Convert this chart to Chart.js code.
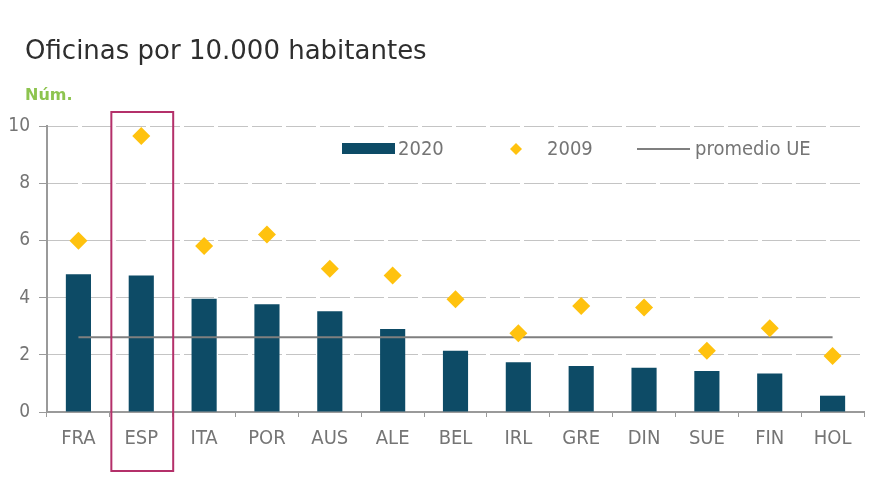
<!DOCTYPE html>
<html>
<head>
<meta charset="utf-8">
<script src="https://cdn.jsdelivr.net/npm/chart.js@4"></script>
<style>
  html, body { margin: 0; padding: 0; background: #ffffff; }
  canvas { display: block; }
</style>
</head>
<body>
<canvas id="c" width="880" height="495"></canvas>
<script>
const titleText = 'Oficinas por 10.000 habitantes';
const unitText = 'Núm.';
const categories = ['FRA', 'ESP', 'ITA', 'POR', 'AUS', 'ALE', 'BEL', 'IRL', 'GRE', 'DIN', 'SUE', 'FIN', 'HOL'];
const oficinas2020 = [4.82, 4.77, 3.96, 3.77, 3.52, 2.90, 2.14, 1.74, 1.61, 1.55, 1.43, 1.35, 0.57];
const oficinas2009 = [5.99, 9.65, 5.80, 6.21, 5.01, 4.77, 3.94, 2.75, 3.71, 3.65, 2.14, 2.93, 1.96];
const promedioUE = [2.61, 2.61, 2.61, 2.61, 2.61, 2.61, 2.61, 2.61, 2.61, 2.61, 2.61, 2.61, 2.61];
const yTickValues = [0, 2, 4, 6, 8, 10];
const seriesNames = ['2020', '2009', 'promedio UE'];
const highlightedCategory = 'ESP';

const COL_BAR = '#0d4b66';
const COL_DIAMOND = '#ffc20e';
const COL_AVG = '#7f7f7f';
const COL_TEXT = '#757575';
const COL_GRID = '#c4c4c4';
const COL_AXIS = '#9a9a9a';
const COL_HL = '#b4306a';
const TICK_FONT = '"DejaVu Sans Condensed", "Liberation Sans Narrow", "DejaVu Sans", sans-serif';

const headerPlugin = {
  id: 'header',
  afterDraw(chart) {
    const ctx = chart.ctx;
    ctx.save();
    ctx.textAlign = 'left';
    ctx.textBaseline = 'alphabetic';
    ctx.fillStyle = '#2e2e2e';
    ctx.font = '26px "DejaVu Sans", sans-serif';
    ctx.fillText(titleText, 25, 59);
    ctx.fillStyle = '#8dc44f';
    ctx.font = 'bold 16px "DejaVu Sans", sans-serif';
    ctx.fillText(unitText, 25, 100);
    ctx.restore();
  }
};

const legendPlugin = {
  id: 'customLegend',
  afterDraw(chart) {
    const ctx = chart.ctx;
    const y = 149;
    ctx.save();
    ctx.font = '20px ' + TICK_FONT;
    ctx.textBaseline = 'middle';
    ctx.textAlign = 'left';
    ctx.fillStyle = COL_BAR;
    ctx.fillRect(342, 143, 53, 11);
    ctx.fillStyle = COL_TEXT;
    ctx.fillText(seriesNames[0], 398, y + 1);
    ctx.fillStyle = COL_DIAMOND;
    ctx.beginPath();
    ctx.moveTo(516 - 6, y);
    ctx.lineTo(516, y - 6);
    ctx.lineTo(516 + 6, y);
    ctx.lineTo(516, y + 6);
    ctx.closePath();
    ctx.fill();
    ctx.fillStyle = COL_TEXT;
    ctx.fillText(seriesNames[1], 547, y + 1);
    ctx.strokeStyle = COL_AVG;
    ctx.lineWidth = 2;
    ctx.beginPath();
    ctx.moveTo(637, y);
    ctx.lineTo(690, y);
    ctx.stroke();
    ctx.fillStyle = COL_TEXT;
    ctx.fillText(seriesNames[2], 695, y + 1);
    ctx.restore();
  }
};

const highlightPlugin = {
  id: 'highlight',
  afterDraw(chart) {
    const xs = chart.scales.x;
    const idx = categories.indexOf(highlightedCategory);
    if (idx < 0) return;
    const step = xs.getPixelForValue(1) - xs.getPixelForValue(0);
    const cx = xs.getPixelForValue(idx);
    const left = cx - step / 2 + 1.5;
    const right = cx + step / 2 + 0.5;
    const top = chart.chartArea.top - 14;
    const bottom = 471;
    const ctx = chart.ctx;
    ctx.save();
    ctx.strokeStyle = COL_HL;
    ctx.lineWidth = 2;
    ctx.strokeRect(left, top, right - left, bottom - top);
    ctx.restore();
  }
};

new Chart(document.getElementById('c'), {
  type: 'bar',
  data: {
    labels: categories,
    datasets: [
      {
        type: 'line',
        label: seriesNames[1],
        data: oficinas2009,
        showLine: false,
        pointStyle: 'rectRot',
        pointRadius: 9,
        pointHoverRadius: 9,
        pointBackgroundColor: COL_DIAMOND,
        pointBorderColor: COL_DIAMOND,
        pointBorderWidth: 0,
        order: 0
      },
      {
        type: 'line',
        label: seriesNames[2],
        data: promedioUE,
        borderColor: COL_AVG,
        borderWidth: 2,
        pointRadius: 0,
        fill: false,
        tension: 0,
        order: 1
      },
      {
        type: 'bar',
        label: seriesNames[0],
        data: oficinas2020,
        backgroundColor: COL_BAR,
        borderWidth: 0,
        barPercentage: 0.4,
        categoryPercentage: 1.0,
        order: 2
      }
    ]
  },
  options: {
    responsive: false,
    devicePixelRatio: 1,
    animation: false,
    events: [],
    layout: { padding: { left: 0, right: 16, top: 126, bottom: 0 } },
    plugins: {
      legend: { display: false },
      title: { display: false },
      tooltip: { enabled: false }
    },
    scales: {
      x: {
        offset: true,
        grid: {
          display: true,
          drawOnChartArea: false,
          drawTicks: true,
          tickLength: 5,
          tickColor: COL_AXIS,
          offset: true
        },
        border: { display: true, color: COL_AXIS, width: 2 },
        ticks: {
          color: COL_TEXT,
          font: { family: TICK_FONT, size: 20 },
          padding: 10,
          maxRotation: 0,
          autoSkip: false
        },
        afterFit(scale) { scale.height = 83; }
      },
      y: {
        min: 0,
        max: 10,
        afterBuildTicks(scale) { scale.ticks = yTickValues.map(v => ({ value: v })); },
        grid: {
          color: COL_GRID,
          lineWidth: 1,
          drawTicks: true,
          tickLength: 8,
          tickColor: COL_AXIS,
          tickBorderDash: []
        },
        border: { display: true, color: COL_AXIS, width: 2, dash: [30, 4] },
        ticks: {
          color: COL_TEXT,
          font: { family: TICK_FONT, size: 19 },
          padding: 9
        },
        afterFit(scale) { scale.width = 47; }
      }
    }
  },
  plugins: [headerPlugin, legendPlugin, highlightPlugin]
});
</script>
</body>
</html>
